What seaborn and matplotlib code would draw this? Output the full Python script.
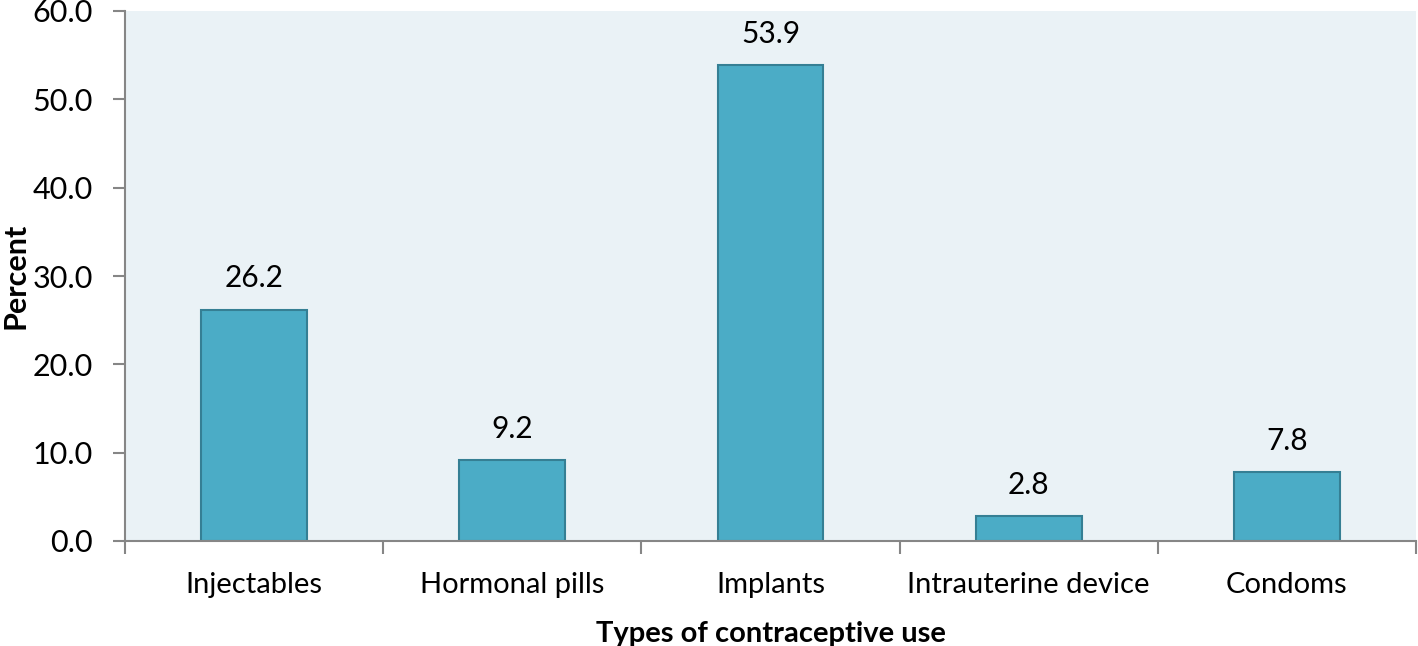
import matplotlib
matplotlib.use("Agg")
import matplotlib.pyplot as plt
import seaborn as sns
import pandas as pd
from matplotlib.ticker import MultipleLocator, FormatStrFormatter

categories = ["Injectables", "Hormonal pills", "Implants", "Intrauterine device", "Condoms"]
values = [26.2, 9.2, 53.9, 2.8, 7.8]

sns.set_theme(style="white")
plt.rcParams['font.family'] = ['Lato', 'DejaVu Sans']

df = pd.DataFrame({"cat": categories, "val": values})

fig = plt.figure(figsize=(14.18, 6.46), dpi=100)
ax = fig.add_axes([125/1418, 1 - 541/646, (1416 - 125)/1418, (541 - 11)/646])
ax.set_facecolor("#EAF2F6")

sns.barplot(data=df, x="cat", y="val", ax=ax, color="#4BACC6", width=0.41,
            edgecolor="#357F94", linewidth=1.5, saturation=1)

for p, v in zip(ax.patches, values):
    ax.annotate(f"{v:.1f}", (p.get_x() + p.get_width() / 2, v), xytext=(0, 16),
                textcoords="offset points", ha="center", va="baseline",
                fontsize=21.5, color="black")

ax.set_xlim(-0.5, len(categories) - 0.5)
ax.set_ylim(0, 60)
ax.yaxis.set_major_locator(MultipleLocator(10))
ax.yaxis.set_major_formatter(FormatStrFormatter("%.1f"))

ax.set_xticks([i - 0.5 for i in range(len(categories) + 1)], minor=False)
ax.set_xticklabels([])
ax.set_xticks(range(len(categories)), minor=True)
ax.set_xticklabels(categories, minor=True)
ax.tick_params(axis="x", which="major", direction="out", length=9, width=1.5, color="#868686", bottom=True)
ax.tick_params(axis="x", which="minor", length=0, pad=22, labelsize=21, labelcolor="black")
ax.tick_params(axis="y", direction="out", length=9, width=1.5, color="#868686", left=True,
               labelsize=22, labelcolor="black", pad=14)

for s in ["top", "right"]:
    ax.spines[s].set_visible(False)
for s in ["left", "bottom"]:
    ax.spines[s].set_color("#868686")
    ax.spines[s].set_linewidth(1.5)

ax.set_xlabel("Types of contraceptive use", fontsize=21, fontweight="bold", color="black")
ax.xaxis.set_label_coords(0.5, -(621 - 541) / 530)
ax.set_ylabel("Percent", fontsize=22, fontweight="bold", color="black")
ax.yaxis.set_label_coords((29 - 125) / 1291, 0.5)

fig.savefig("out.png", dpi=100)
